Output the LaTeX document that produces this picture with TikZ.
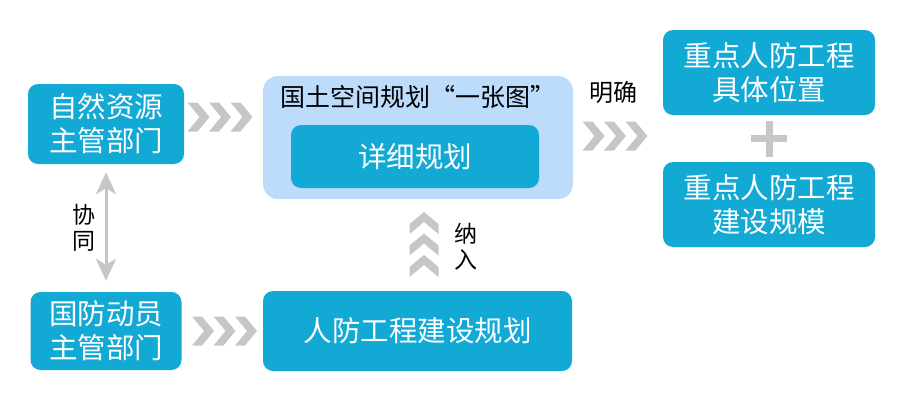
\documentclass[tikz,border=0pt]{standalone}
\usepackage{fontspec}
\newfontfamily\cjk{Noto Sans CJK SC}
\usetikzlibrary{arrows.meta,calc}
\definecolor{boxblue}{HTML}{12A9D5}
\definecolor{mapblue}{HTML}{BDDCFB}
\definecolor{chevgray}{HTML}{C6C6C6}
\tikzset{
  unit/.style={fill=boxblue,rounded corners=10pt,text=white,align=center,
    inner sep=0pt,font=\cjk\fontsize{28.5}{34}\selectfont},
  tag/.style={align=center,inner sep=0pt,font=\cjk\fontsize{23}{26}\selectfont},
  chevrons/.pic={
    \foreach \k in {0,1,2}
      \fill[chevgray] ({21.5*\k-32.5},-14.5) -- ({21.5*\k-22.5},-14.5)
        -- ({21.5*\k-10.5},0) -- ({21.5*\k-22.5},14.5)
        -- ({21.5*\k-32.5},14.5) -- ({21.5*\k-20.5},0) -- cycle;
  }
}
\begin{document}
\begin{tikzpicture}[x=1pt,y=-1pt]
  \useasboundingbox (0,0) rectangle (910,407);
  \node[fill=mapblue,rounded corners=15pt,minimum width=310pt,minimum height=123pt]
    (onemap) at (418,137.5) {};
  \draw
    (106,124) node[unit,minimum width=156pt,minimum height=80pt] (natres) {自然资源\\主管部门}
    (106,331) node[unit,minimum width=151pt,minimum height=78pt] (natdef) {国防动员\\主管部门}
    (418,97) node[tag,font=\cjk\fontsize{25}{28}\selectfont] (maptitle) {国土空间规划“一张图”}
    (415,156.5) node[unit,minimum width=248pt,minimum height=63pt] (detail) {详细规划}
    (417.5,331) node[unit,minimum width=309pt,minimum height=80pt] (rfplan) {人防工程建设规划}
    (769,72.5) node[unit,minimum width=212pt,minimum height=85pt] (site) {重点人防工程\\具体位置}
    (769,204.5) node[unit,minimum width=212pt,minimum height=85pt] (scale) {重点人防工程\\建设规模}
    (613,92) node[tag,font=\cjk\fontsize{24}{26}\selectfont] (define) {明确}
    (84,228) node[tag] (coop) {协\\同}
    (466,247) node[tag] (include) {纳\\入};
  \pic at (220,117) {chevrons};
  \pic at (615,136) {chevrons};
  \pic at (224.5,331) {chevrons};
  \pic[rotate=90] at (424,244.5) {chevrons};
  \begin{scope}[chevgray]
    \draw[line width=3pt,shorten <=8pt,shorten >=11pt,
      {Stealth[length=22pt,width=20pt,inset=6pt]}-{Stealth[length=22pt,width=20pt,inset=6pt]}]
      (natres) to (natdef);
    \draw[line width=7pt] ($(site.south)!0.5!(scale.north)$) +(-18,0) -- +(18,0)
      +(0,-18) -- +(0,18);
  \end{scope}
\end{tikzpicture}
\end{document}
